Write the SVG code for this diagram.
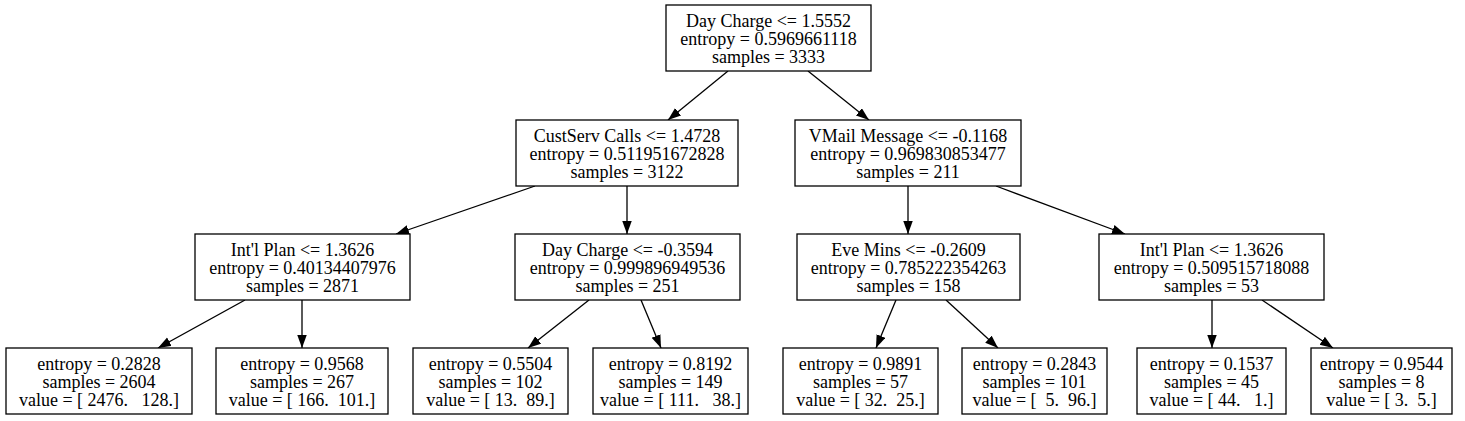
<svg xmlns="http://www.w3.org/2000/svg" width="1465" height="421" viewBox="0 0 1465 421">
<style>
.n rect{fill:#fff;stroke:#000;stroke-width:1.3}
text{font-family:"Liberation Serif","Times New Roman",serif;font-size:18px;text-anchor:middle;fill:#000;white-space:pre}
.e line{stroke:#000;stroke-width:1.3}
</style>
<defs>
<marker id="a" markerUnits="userSpaceOnUse" markerWidth="14" markerHeight="11" refX="13" refY="4.75" orient="auto"><path d="M0,0 L13,4.75 L0,9.5 z" fill="#000"/></marker>
</defs>
<rect width="1465" height="421" fill="#fff"/>
<g class="e">
<line x1="728" y1="71" x2="668" y2="120" marker-end="url(#a)"/>
<line x1="808" y1="71" x2="869" y2="120" marker-end="url(#a)"/>
<line x1="535" y1="186" x2="396" y2="234" marker-end="url(#a)"/>
<line x1="627" y1="186" x2="627" y2="234" marker-end="url(#a)"/>
<line x1="908" y1="186" x2="908" y2="234" marker-end="url(#a)"/>
<line x1="996" y1="186" x2="1125" y2="234" marker-end="url(#a)"/>
<line x1="245" y1="300" x2="158" y2="348" marker-end="url(#a)"/>
<line x1="302" y1="300" x2="302" y2="348" marker-end="url(#a)"/>
<line x1="589" y1="300" x2="528" y2="348" marker-end="url(#a)"/>
<line x1="641" y1="300" x2="661" y2="348" marker-end="url(#a)"/>
<line x1="896" y1="300" x2="876" y2="348" marker-end="url(#a)"/>
<line x1="946" y1="300" x2="998" y2="348" marker-end="url(#a)"/>
<line x1="1212" y1="300" x2="1212" y2="348" marker-end="url(#a)"/>
<line x1="1262" y1="300" x2="1333" y2="348" marker-end="url(#a)"/>
</g>
<g id="n0" class="n"><rect x="666" y="5" width="205" height="66"/><text x="768.5" y="27">Day Charge &lt;= 1.5552</text><text x="768.5" y="45">entropy = 0.5969661118</text><text x="768.5" y="63">samples = 3333</text></g>
<g id="n1" class="n"><rect x="516" y="120" width="222" height="66"/><text x="627" y="142">CustServ Calls &lt;= 1.4728</text><text x="627" y="160">entropy = 0.511951672828</text><text x="627" y="178">samples = 3122</text></g>
<g id="n2" class="n"><rect x="795" y="120" width="226" height="66"/><text x="908" y="142">VMail Message &lt;= -0.1168</text><text x="908" y="160">entropy = 0.969830853477</text><text x="908" y="178">samples = 211</text></g>
<g id="n3" class="n"><rect x="195" y="234" width="215" height="66"/><text x="302.5" y="256">Int'l Plan &lt;= 1.3626</text><text x="302.5" y="274">entropy = 0.40134407976</text><text x="302.5" y="292">samples = 2871</text></g>
<g id="n4" class="n"><rect x="515" y="234" width="225" height="66"/><text x="627.5" y="256">Day Charge &lt;= -0.3594</text><text x="627.5" y="274">entropy = 0.999896949536</text><text x="627.5" y="292">samples = 251</text></g>
<g id="n5" class="n"><rect x="797" y="234" width="223" height="66"/><text x="908.5" y="256">Eve Mins &lt;= -0.2609</text><text x="908.5" y="274">entropy = 0.785222354263</text><text x="908.5" y="292">samples = 158</text></g>
<g id="n6" class="n"><rect x="1099" y="234" width="225" height="66"/><text x="1211.5" y="256">Int'l Plan &lt;= 1.3626</text><text x="1211.5" y="274">entropy = 0.509515718088</text><text x="1211.5" y="292">samples = 53</text></g>
<g id="n7" class="n"><rect x="6" y="348" width="186" height="66"/><text x="99" y="370">entropy = 0.2828</text><text x="99" y="388">samples = 2604</text><text x="99" y="406">value = [ 2476.   128.]</text></g>
<g id="n8" class="n"><rect x="216" y="348" width="172" height="66"/><text x="302" y="370">entropy = 0.9568</text><text x="302" y="388">samples = 267</text><text x="302" y="406">value = [ 166.  101.]</text></g>
<g id="n9" class="n"><rect x="413" y="348" width="155" height="66"/><text x="490.5" y="370">entropy = 0.5504</text><text x="490.5" y="388">samples = 102</text><text x="490.5" y="406">value = [ 13.  89.]</text></g>
<g id="n10" class="n"><rect x="593" y="348" width="155" height="66"/><text x="670.5" y="370">entropy = 0.8192</text><text x="670.5" y="388">samples = 149</text><text x="670.5" y="406">value = [ 111.   38.]</text></g>
<g id="n11" class="n"><rect x="783" y="348" width="155" height="66"/><text x="860.5" y="370">entropy = 0.9891</text><text x="860.5" y="388">samples = 57</text><text x="860.5" y="406">value = [ 32.  25.]</text></g>
<g id="n12" class="n"><rect x="962" y="348" width="145" height="66"/><text x="1034.5" y="370">entropy = 0.2843</text><text x="1034.5" y="388">samples = 101</text><text x="1034.5" y="406">value = [  5.  96.]</text></g>
<g id="n13" class="n"><rect x="1137" y="348" width="149" height="66"/><text x="1211.5" y="370">entropy = 0.1537</text><text x="1211.5" y="388">samples = 45</text><text x="1211.5" y="406">value = [ 44.   1.]</text></g>
<g id="n14" class="n"><rect x="1311" y="348" width="141" height="66"/><text x="1381.5" y="370">entropy = 0.9544</text><text x="1381.5" y="388">samples = 8</text><text x="1381.5" y="406">value = [ 3.  5.]</text></g>
</svg>
